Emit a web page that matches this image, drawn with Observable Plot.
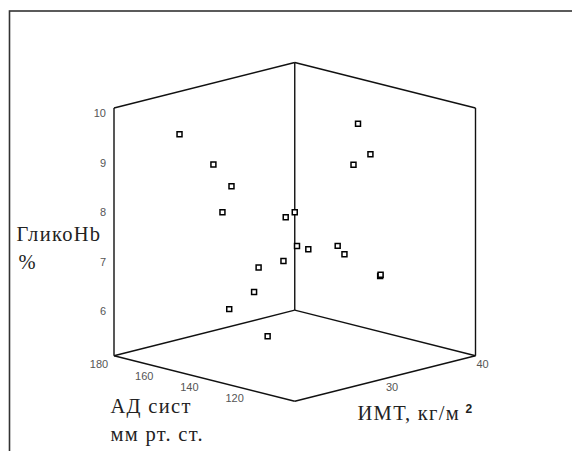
<!DOCTYPE html>
<html>
<head>
<meta charset="utf-8">
<script src="https://cdn.jsdelivr.net/npm/d3@7"></script>
<script src="https://cdn.jsdelivr.net/npm/@observablehq/plot@0.6"></script>
<style>
  html, body { margin: 0; padding: 0; background: #fff; }
  g[font-family^="Liberation Serif"] text { letter-spacing: 1.3px; }
</style>
</head>
<body>
<div id="chart"></div>
<script>
// Data: body-mass index (ИМТ), systolic BP (АД сист), glycated haemoglobin (ГликоHb, %)
const bmi   = [26, 28, 30, 24, 25, 32, 34, 35, 27, 22, 29, 23, 21, 33, 36, 32, 38, 31, 37.2, 37.5];
const bp    = [175, 168, 168, 148, 124, 148, 155, 154, 133, 124, 154, 141, 116, 124, 130.5, 122, 153, 122, 131, 132];
const hba1c = [9.25, 8.63, 8.10, 8.08, 8.21, 7.71, 6.86, 6.76, 7.13, 7.33, 6.17, 6.25, 6.08, 9.73, 8.90, 8.97, 6.70, 7.21, 6.38, 6.38];

const bmiDomain = [20, 40];
const bpDomain = [100, 180];
const hbDomain = [5, 10];

const hbTicks = [6, 7, 8, 9, 10];
const bpTicks = [180, 160, 140, 120];
const bmiTicks = [30, 40];

const yTitle = "ГликоHb";
const yUnit = "%";
const bpTitle1 = "АД сист";
const bpTitle2 = "мм рт. ст.";
const bmiTitle = "ИМТ, кг/м";
const bmiSup = "2";

// oblique projection of (bmi, bp, hba1c) to plane coordinates
const tilt = 0.1837;
function proj(b, p, h) {
  const u = (b - bmiDomain[0]) / (bmiDomain[1] - bmiDomain[0]);
  const v = (p - bpDomain[0]) / (bpDomain[1] - bpDomain[0]);
  const w = (h - hbDomain[0]) / (hbDomain[1] - hbDomain[0]);
  return [u - v, tilt * (u + v) + w];
}

const points = bmi.map((b, i) => {
  const [px, py] = proj(b, bp[i], hba1c[i]);
  return {bmi: b, bp: bp[i], hb: hba1c[i], px, py};
});

// box corners (bottom face) built from the domains
const [b0, b1] = bmiDomain, [p0, p1] = bpDomain, [h0, h1] = hbDomain;
const L = [b0, p1], B = [b1, p1], R = [b1, p0], F = [b0, p0];
const edgeDefs = [
  [L, h0, B, h0], [B, h0, R, h0], [L, h0, F, h0], [F, h0, R, h0],
  [L, h0, L, h1], [B, h0, B, h1], [R, h0, R, h1],
  [L, h1, B, h1], [B, h1, R, h1]
];
const edges = edgeDefs.map(([c1, z1, c2, z2]) => {
  const a = proj(c1[0], c1[1], z1), b = proj(c2[0], c2[1], z2);
  return {x1: a[0], y1: a[1], x2: b[0], y2: b[1]};
});

const hbLabels = hbTicks.map(t => { const [px, py] = proj(b0, p1, t); return {t, px, py}; });
const bpLabels = bpTicks.map(t => { const [px, py] = proj(b0, t, h0); return {t, px, py}; });
const bmiLabels = bmiTicks.map(t => { const [px, py] = proj(t, p0, h0); return {t, px, py}; });

const tickFont = {fontFamily: "Liberation Sans, Arial, sans-serif", fontSize: 11, fill: "#555"};
const titleFont = {fontFamily: "Liberation Serif, Times New Roman, serif", fontSize: 20.5, fill: "#222"};

const chart = Plot.plot({
  width: 572,
  height: 451,
  margin: 0,
  style: {overflow: "hidden", background: "#fff"},
  x: {domain: [-1, 1], range: [113.5, 475], axis: null},
  y: {domain: [0, 1], range: [400.7, 153], axis: null},
  marks: [
    Plot.frame({insetLeft: 9, insetTop: 10.5, insetRight: -20, insetBottom: -20, stroke: "#333", strokeWidth: 1.6}),
    Plot.link(edges, {x1: "x1", y1: "y1", x2: "x2", y2: "y2", stroke: "#111", strokeWidth: 1.4}),
    Plot.dot(points, {x: "px", y: "py", symbol: "square", r: 2.8, stroke: "#000", strokeWidth: 1.5, fill: "white"}),
    Plot.text(hbLabels, {x: "px", y: "py", text: d => String(d.t), textAnchor: "end", dx: -8, dy: 5.5, ...tickFont}),
    Plot.text(bpLabels, {x: "px", y: "py", text: d => String(d.t), dx: -15, dy: 9, ...tickFont}),
    Plot.text(bmiLabels, {x: "px", y: "py", text: d => String(d.t), dx: 7, dy: 9, ...tickFont}),
    Plot.text([yTitle], {text: d => d, frameAnchor: "top-left", dx: 16, dy: 240, textAnchor: "start", lineAnchor: "bottom", ...titleFont}),
    Plot.text([yUnit], {text: d => d, frameAnchor: "top-left", dx: 18, dy: 268, textAnchor: "start", lineAnchor: "bottom", ...titleFont}),
    Plot.text([bpTitle1], {text: d => d, frameAnchor: "top-left", dx: 110, dy: 412, textAnchor: "start", lineAnchor: "bottom", ...titleFont}),
    Plot.text([bpTitle2], {text: d => d, frameAnchor: "top-left", dx: 110, dy: 440, textAnchor: "start", lineAnchor: "bottom", ...titleFont}),
    Plot.text([bmiTitle], {text: d => d, frameAnchor: "top-left", dx: 357, dy: 419, textAnchor: "start", lineAnchor: "bottom", ...titleFont}),
    Plot.text([bmiSup], {text: d => d, frameAnchor: "top-left", dx: 465, dy: 412, textAnchor: "start", lineAnchor: "bottom", fontFamily: "Liberation Sans, Arial, sans-serif", fontWeight: "bold", fontSize: 12, fill: "#222"})
  ]
});
document.getElementById("chart").appendChild(chart);
</script>
</body>
</html>
